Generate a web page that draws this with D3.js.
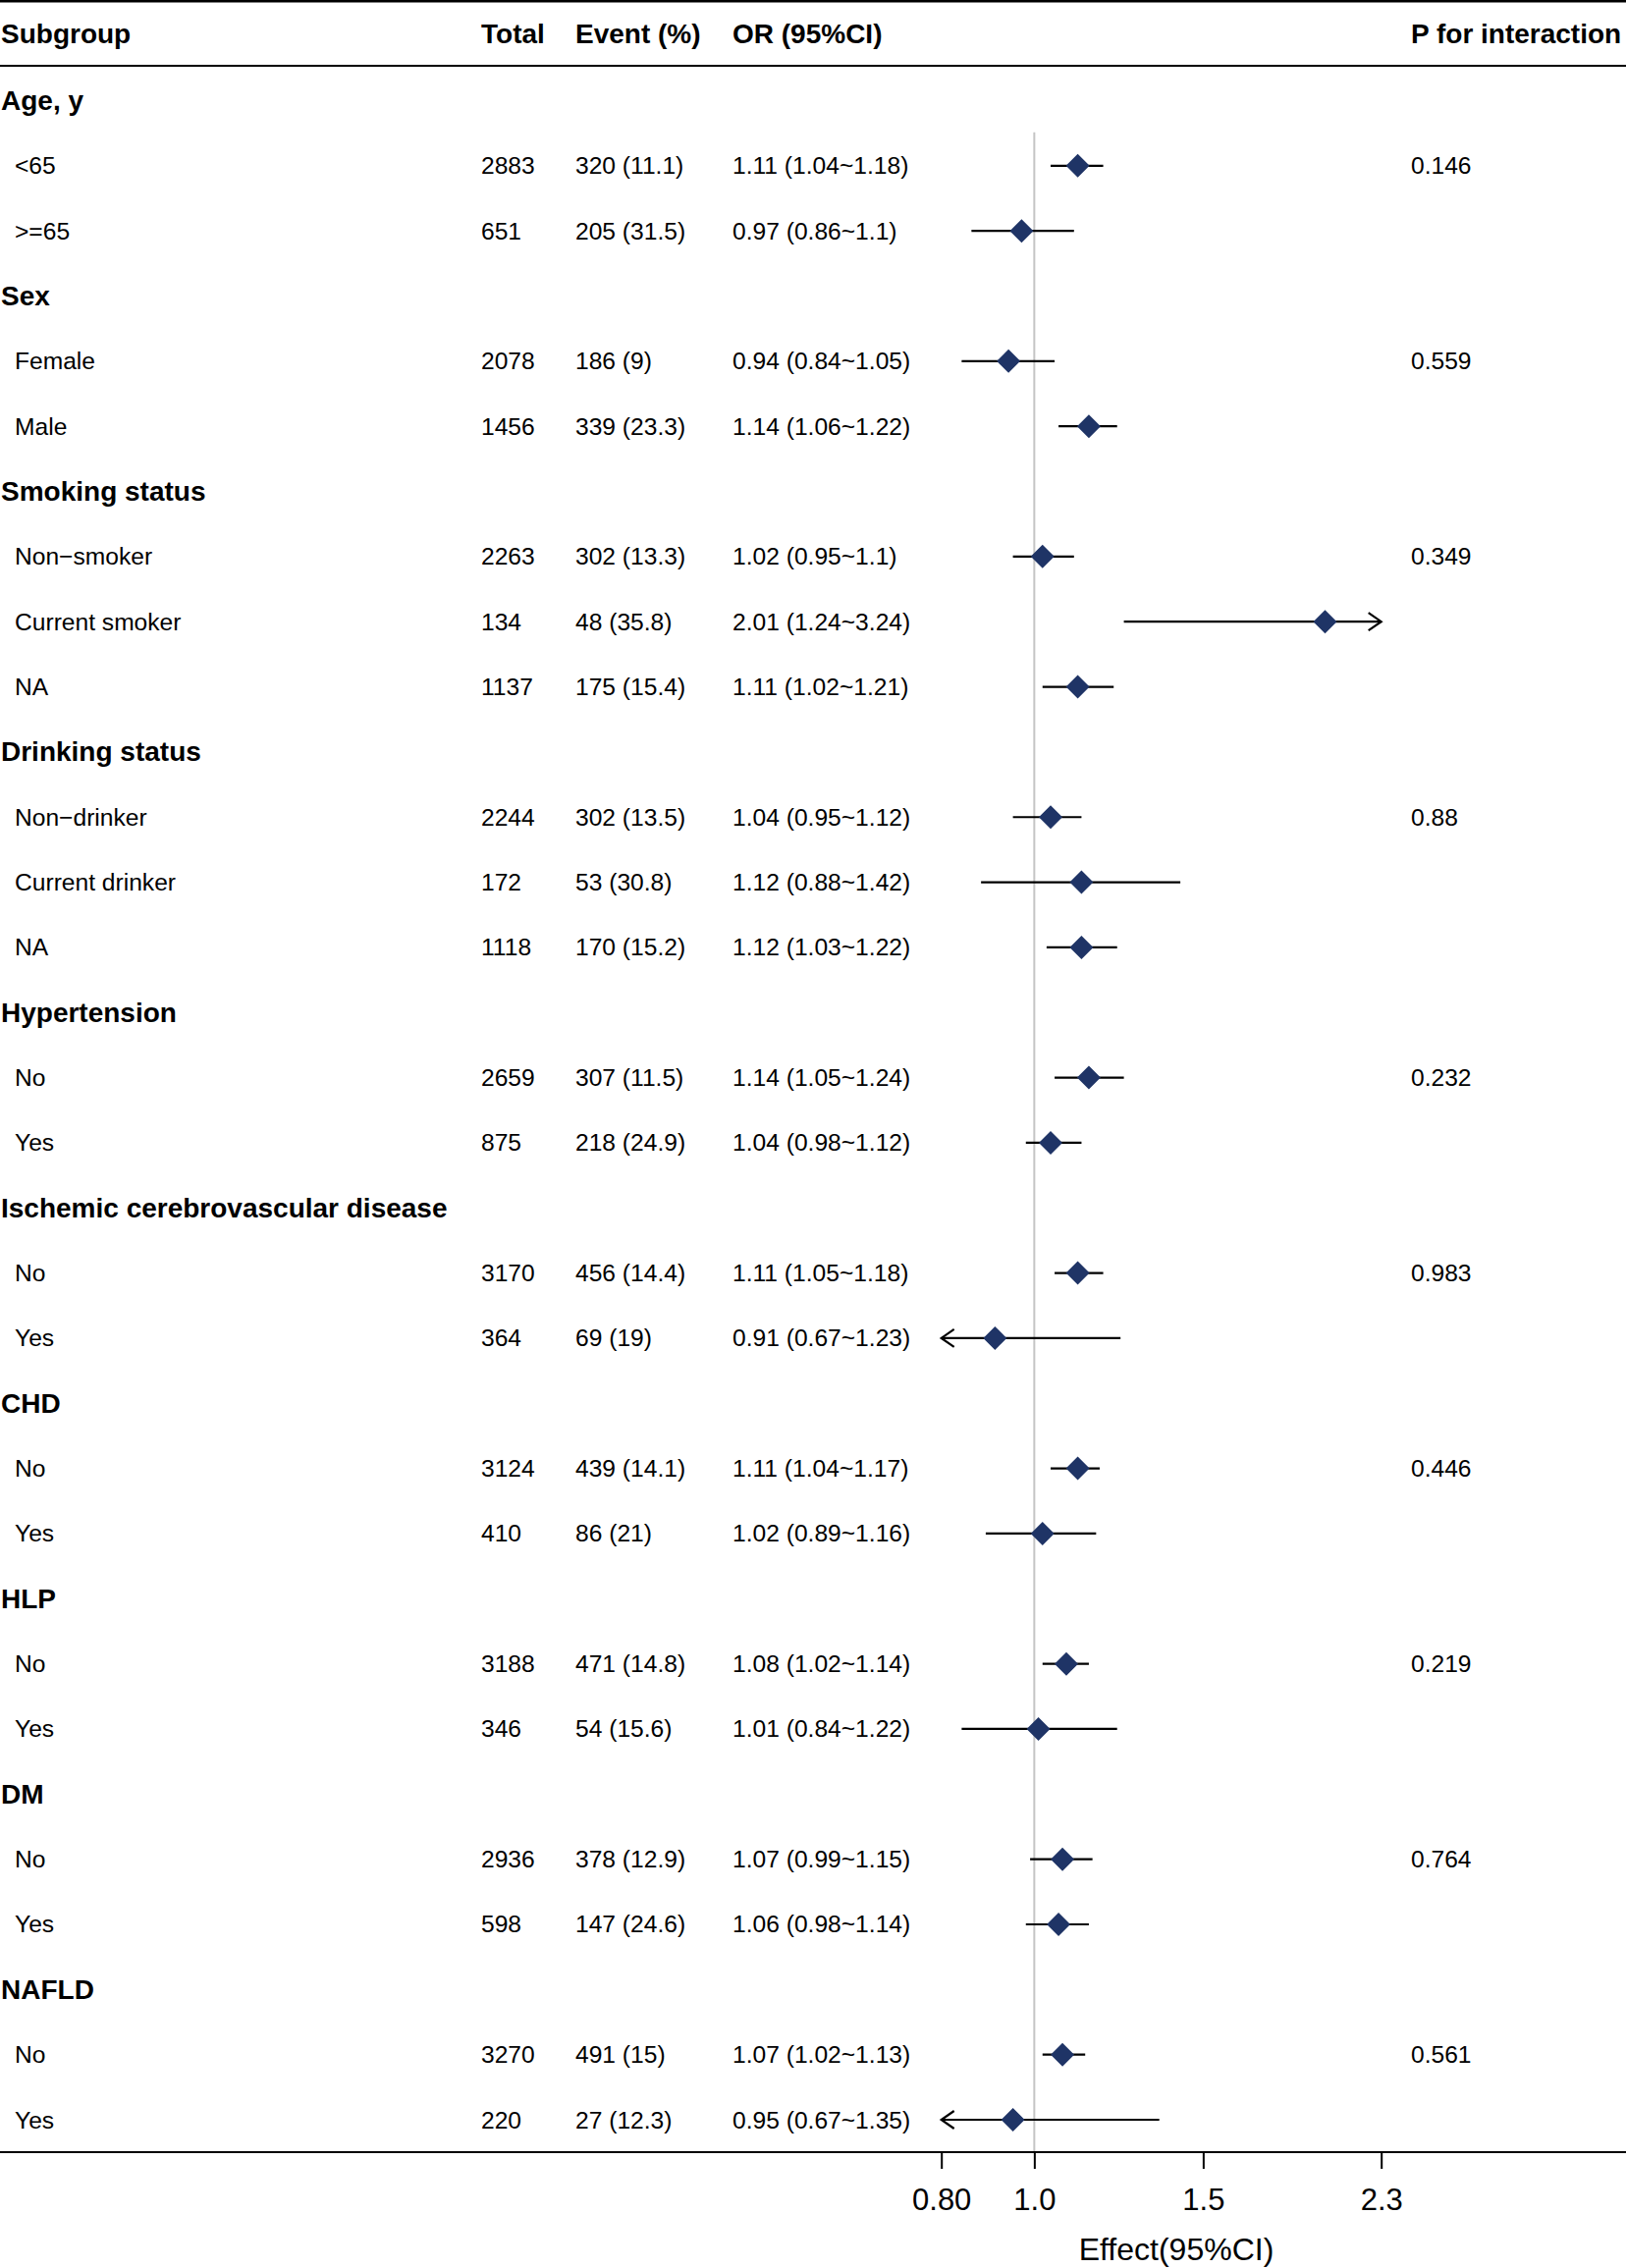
<!DOCTYPE html>
<html>
<head>
<meta charset="utf-8">
<script src="https://cdn.jsdelivr.net/npm/d3@7"></script>
<style>
  body { margin: 0; background: #fff; }
  text { font-family: "Liberation Sans", Arial, Helvetica, sans-serif; fill: #000; }
</style>
</head>
<body>
<svg id="chart" width="1656" height="2310"></svg>
<script>
// column headers
const headers = ["Subgroup", "Total", "Event (%)", "OR (95%CI)", "P for interaction"];

// subgroups
const groupNames = ["Age, y", "Sex", "Smoking status", "Drinking status", "Hypertension",
    "Ischemic cerebrovascular disease", "CHD", "HLP", "DM", "NAFLD"];
const levelGroup = [0, 0, 1, 1, 2, 2, 2, 3, 3, 3, 4, 4, 5, 5, 6, 6, 7, 7, 8, 8, 9, 9];
const levelNames = ["<65", ">=65", "Female", "Male", "Non\u2212smoker", "Current smoker", "NA",
    "Non\u2212drinker", "Current drinker", "NA", "No", "Yes", "No", "Yes", "No", "Yes",
    "No", "Yes", "No", "Yes", "No", "Yes"];

// values
const totals = [2883, 651, 2078, 1456, 2263, 134, 1137, 2244, 172, 1118, 2659, 875,
    3170, 364, 3124, 410, 3188, 346, 2936, 598, 3270, 220];
const events = [320, 205, 186, 339, 302, 48, 175, 302, 53, 170, 307, 218,
    456, 69, 439, 86, 471, 54, 378, 147, 491, 27];
const eventPct = [11.1, 31.5, 9, 23.3, 13.3, 35.8, 15.4, 13.5, 30.8, 15.2, 11.5, 24.9,
    14.4, 19, 14.1, 21, 14.8, 15.6, 12.9, 24.6, 15, 12.3];
const orEst = [1.11, 0.97, 0.94, 1.14, 1.02, 2.01, 1.11, 1.04, 1.12, 1.12, 1.14, 1.04,
    1.11, 0.91, 1.11, 1.02, 1.08, 1.01, 1.07, 1.06, 1.07, 0.95];
const orLow = [1.04, 0.86, 0.84, 1.06, 0.95, 1.24, 1.02, 0.95, 0.88, 1.03, 1.05, 0.98,
    1.05, 0.67, 1.04, 0.89, 1.02, 0.84, 0.99, 0.98, 1.02, 0.67];
const orHigh = [1.18, 1.1, 1.05, 1.22, 1.1, 3.24, 1.21, 1.12, 1.42, 1.22, 1.24, 1.12,
    1.18, 1.23, 1.17, 1.16, 1.14, 1.22, 1.15, 1.14, 1.13, 1.35];
const pInter = [0.146, null, 0.559, null, 0.349, null, null, 0.88, null, null, 0.232, null,
    0.983, null, 0.446, null, 0.219, null, 0.764, null, 0.561, null];

// axis
const tickValues = [0.8, 1.0, 1.5, 2.3];
const tickLabels = ["0.80", "1.0", "1.5", "2.3"];
const axisTitle = "Effect(95%CI)";

// build the row list: group header followed by its levels
const rows = [];
groupNames.forEach((g, gi) => {
    rows.push({ type: "group", label: g });
    levelGroup.forEach((lg, i) => {
        if (lg === gi) rows.push({ type: "level", i: i });
    });
});

const W = 1656, H = 2310;
const svg = d3.select("#chart");

const y = d3.scaleLinear().domain([0, rows.length - 1]).range([102.5, 2159]);
const x = d3.scaleLog().domain([0.8, 2.3]).range([958.7, 1406.7]);
const colX = [1, 490, 586, 746, 1437];
const axisY = 2192;
const navy = "#1f3466";

// header lines
svg.append("line").attr("x1", 0).attr("x2", W).attr("y1", 1).attr("y2", 1)
    .attr("stroke", "#000").attr("stroke-width", 3);
svg.append("line").attr("x1", 0).attr("x2", W).attr("y1", 67).attr("y2", 67)
    .attr("stroke", "#000").attr("stroke-width", 2);

svg.selectAll("text.header").data(headers).join("text")
    .attr("class", "header")
    .attr("x", (d, i) => colX[i]).attr("y", 34)
    .attr("dominant-baseline", "central")
    .style("font-size", "28px").style("font-weight", "bold")
    .text(d => d);

// reference line at 1
svg.append("line")
    .attr("x1", x(1)).attr("x2", x(1))
    .attr("y1", y(1) - 34).attr("y2", axisY)
    .attr("stroke", "#c4c4c4").attr("stroke-width", 2);

// table text
const rowG = svg.selectAll("g.row").data(rows).join("g")
    .attr("class", "row")
    .attr("transform", (d, k) => `translate(0,${y(k)})`);

rowG.filter(d => d.type === "group").append("text")
    .attr("x", colX[0]).attr("dominant-baseline", "central")
    .style("font-size", "28px").style("font-weight", "bold")
    .text(d => d.label);

const lv = rowG.filter(d => d.type === "level");
const cell = (xx, fn) => lv.append("text").attr("x", xx).attr("dominant-baseline", "central")
    .style("font-size", "24.6px").text(fn);
cell(15, d => levelNames[d.i]);
cell(colX[1], d => totals[d.i]);
cell(colX[2], d => `${events[d.i]} (${eventPct[d.i]})`);
cell(colX[3], d => `${orEst[d.i]} (${orLow[d.i]}~${orHigh[d.i]})`);
cell(colX[4], d => pInter[d.i] === null ? "" : pInter[d.i]);

// confidence intervals, clipped at the axis limits with arrows
const [lo, hi] = x.domain();
lv.append("line")
    .attr("x1", d => x(Math.max(orLow[d.i], lo)))
    .attr("x2", d => x(Math.min(orHigh[d.i], hi)))
    .attr("stroke", "#000").attr("stroke-width", 2.2);

lv.filter(d => orLow[d.i] < lo).append("path")
    .attr("d", `M${x(lo) + 13},-9L${x(lo)},0L${x(lo) + 13},9`)
    .attr("fill", "none").attr("stroke", "#000").attr("stroke-width", 2.2);
lv.filter(d => orHigh[d.i] > hi).append("path")
    .attr("d", `M${x(hi) - 13},-9L${x(hi)},0L${x(hi) - 13},9`)
    .attr("fill", "none").attr("stroke", "#000").attr("stroke-width", 2.2);

// point estimates
lv.append("path")
    .attr("d", d => {
        const cx = x(orEst[d.i]), r = 12;
        return `M${cx},${-r}L${cx + r},0L${cx},${r}L${cx - r},0Z`;
    })
    .attr("fill", navy);

// x axis
svg.append("line").attr("x1", 0).attr("x2", W).attr("y1", axisY).attr("y2", axisY)
    .attr("stroke", "#000").attr("stroke-width", 2);

const axis = d3.axisBottom(x)
    .tickValues(tickValues)
    .tickFormat((d, i) => tickLabels[i])
    .tickSize(17)
    .tickPadding(20);

const gAxis = svg.append("g").attr("transform", `translate(0,${axisY})`).call(axis);
gAxis.select(".domain").remove();
gAxis.selectAll(".tick line").attr("stroke", "#000").attr("stroke-width", 2);
gAxis.selectAll(".tick text")
    .attr("fill", "#000")
    .style("font-family", "\"Liberation Sans\", Arial, sans-serif")
    .style("font-size", "31px");

svg.append("text")
    .attr("x", 1198).attr("y", 2291)
    .attr("text-anchor", "middle").attr("dominant-baseline", "central")
    .style("font-size", "32px")
    .text(axisTitle);
</script>
</body>
</html>
